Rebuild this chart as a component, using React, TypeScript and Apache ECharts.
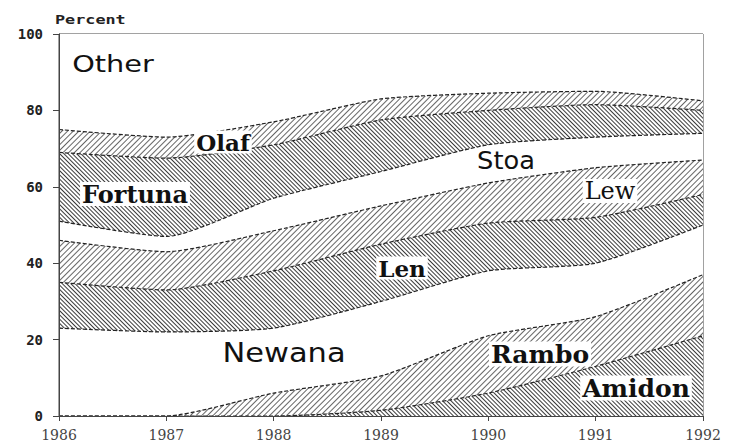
import React, { useEffect, useRef } from "react";
import * as echarts from "echarts";

const years = ["1986", "1987", "1988", "1989", "1990", "1991", "1992"];
const amidon = [0, 0, 0, 1.5, 6, 13, 21];
const rambo = [0, 0, 6, 9, 15, 13, 16];
const newana = [23, 22, 17, 19.5, 17, 14, 13];
const len = [12, 11, 15, 15, 12.5, 12, 8];
const lew = [11, 10, 10.5, 10, 10.5, 13, 9];
const stoa = [5, 4, 8.5, 9, 10, 8, 7];
const fortuna = [18, 20.5, 14, 13.5, 9, 8.5, 6];
const olaf = [6, 5.5, 6, 5.5, 4.5, 3.5, 2.5];
const other = [25, 27, 23, 17, 15.5, 15, 17.5];

const denseHatch = {
  symbol: "rect",
  symbolSize: 1,
  dashArrayX: [1, 0],
  dashArrayY: [1, 2],
  rotation: Math.PI / 4,
  color: "#3a3a3a",
  backgroundColor: "#ededed",
};
const lightHatch = {
  symbol: "rect",
  symbolSize: 1,
  dashArrayX: [1, 0],
  dashArrayY: [1, 3],
  rotation: -Math.PI / 4,
  color: "#666",
  backgroundColor: "#ffffff",
};

function mk(name: string, data: number[], decal: any, edge = true) {
  return {
    name,
    type: "line",
    stack: "share",
    data,
    symbol: "none",
    smooth: 0.2,
    lineStyle: edge
      ? { color: "#222", width: 1.2, type: [4, 2], decal: decal || undefined }
      : { width: 0, decal: decal || undefined },
    itemStyle: { color: "#222", decal: decal || undefined },
    areaStyle: { color: "#ffffff", opacity: 1 },
    z: 2,
  };
}

export default function App() {
  const ref = useRef<HTMLDivElement>(null);
  useEffect(() => {
    if (!ref.current) return;
    const chart = echarts.init(ref.current, undefined, { renderer: "svg" });
    const sans = "DejaVu Sans";
    const serif = "DejaVu Serif";
    const lbl = (text: string, x: number, y: number, size: number, family: string, weight: string, sx = 1, bg = false) => ({
      type: "text",
      x,
      y,
      scaleX: sx,
      z: 100,
      style: {
        text,
        fill: "#111",
        font: `${weight} ${size}px "${family}"`,
        textAlign: "center",
        textVerticalAlign: "middle",
        backgroundColor: bg ? "#ffffff" : undefined,
        padding: bg ? [0, 2, 0, 2] : undefined,
      },
    });
    chart.setOption({
      animation: false,
      backgroundColor: "#ffffff",
      grid: { left: 59, right: 26, top: 34, bottom: 29, show: true, borderColor: "#444", borderWidth: 1, backgroundColor: "transparent" },
      xAxis: {
        type: "category",
        data: years,
        boundaryGap: false,
        axisLine: { lineStyle: { color: "#444" } },
        axisTick: { show: true, length: 5, lineStyle: { color: "#444" } },
        axisLabel: { color: "#444", fontFamily: serif, fontSize: 14, margin: 12 },
        splitLine: { show: false },
        z: 10,
      },
      yAxis: {
        type: "value",
        min: 0,
        max: 100,
        interval: 20,
        axisLine: { show: true, lineStyle: { color: "#444" } },
        axisTick: { show: true, length: 6, lineStyle: { color: "#444" } },
        axisLabel: { color: "#222", fontFamily: "DejaVu Sans Mono", fontWeight: "bold", fontSize: 14, margin: 16 },
        splitLine: { show: false },
        z: 10,
      },
      series: [
        mk("Amidon", amidon, denseHatch),
        mk("Rambo", rambo, lightHatch),
        mk("Newana", newana, null),
        mk("Len", len, denseHatch),
        mk("Lew", lew, lightHatch),
        mk("Stoa", stoa, null),
        mk("Fortuna", fortuna, denseHatch),
        mk("Olaf", olaf, lightHatch),
        mk("Other", other, null, false),
      ],
      graphic: [
        {
          type: "text",
          left: 55,
          top: 13,
          scaleX: 1.4,
          style: { text: "Percent", fill: "#222", font: `bold 12px "DejaVu Sans Mono"` },
        },
        lbl("Other", 113, 64, 23, sans, "normal", 1.25),
        lbl("Olaf", 223, 142, 23, serif, "bold", 1, true),
        lbl("Fortuna", 135, 194, 24, serif, "bold", 1, true),
        lbl("Stoa", 506, 161, 24, sans, "normal", 1.07),
        lbl("Lew", 610, 191, 24, serif, "normal", 1, true),
        lbl("Len", 402, 268, 23, serif, "bold", 1, true),
        lbl("Newana", 284, 353, 27, sans, "normal", 1.13),
        lbl("Rambo", 540, 354, 25, serif, "bold", 1, true),
        lbl("Amidon", 636, 388, 25, serif, "bold", 1, true),
      ],
    });
    return () => chart.dispose();
  }, []);
  return <div ref={ref} style={{ width: 729, height: 445, position: "absolute", left: 0, top: 0 }} />;
}
